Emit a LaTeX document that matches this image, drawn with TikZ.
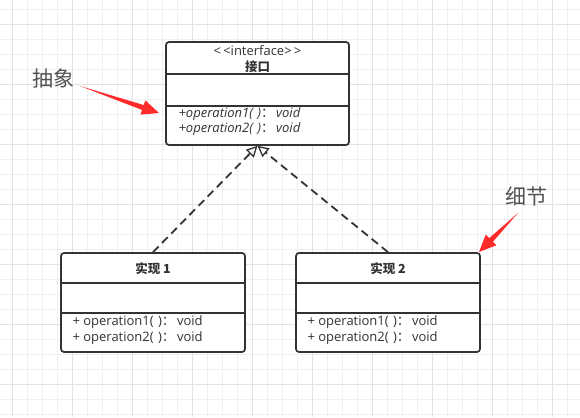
\documentclass[tikz,border=0pt]{standalone}
\usepackage{fontspec}
\setmainfont{Open Sans}
\newfontfamily\cjk{Noto Sans CJK SC}
\usetikzlibrary{arrows.meta,calc}
\definecolor{ink}{HTML}{333333}
\definecolor{gridminor}{HTML}{EFEFEF}
\definecolor{gridmajor}{HTML}{E2E2E2}
\definecolor{note}{HTML}{FF2B2B}
\newcommand{\boxfont}{\fontsize{13}{15}\selectfont}
\newcommand{\fwcolon}{{\cjk ：}}

\tikzset{
  umlbox/.style={draw=ink, line width=1.7pt, rounded corners=3pt, fill=white,
    inner sep=0pt},
  divider/.style={draw=ink, line width=1.7pt},
  realize/.style={draw=ink, line width=1.8pt, dash pattern=on 8pt off 5pt,
    -{Triangle[open, length=11pt, width=11pt, line width=1.3pt]}},
  classname/.style={text=ink, font=\fontsize{12.5}{14}\selectfont\cjk\bfseries},
  member/.style={text=ink, font=\boxfont, anchor=west},
  notetext/.style={text=ink!85, font=\fontsize{21}{23}\selectfont\cjk}
}

\begin{document}
\begin{tikzpicture}[x=1pt,y=-1pt]
   \useasboundingbox (0,0) rectangle (580,417);
   \fill[white] (0,0) rectangle (580,417);

   % background grid
   \foreach \i in {0,...,38}
   \draw[gridminor, line width=.8pt] (12+15*\i,0) -- (12+15*\i,417);
   \foreach \i in {0,...,27}
   \draw[gridminor, line width=.8pt] (0,9+15*\i) -- (580,9+15*\i);
   \foreach \i in {0,...,9}
   \draw[gridmajor, line width=.8pt] (12+60*\i,0) -- (12+60*\i,417);
   \foreach \i in {0,...,6}
   \draw[gridmajor, line width=.8pt] (0,24+60*\i) -- (580,24+60*\i);

   % classes
   \node[umlbox, minimum width=183pt, minimum height=103pt] (iface) at (257.5,93.5) {};
   \node[umlbox, minimum width=184pt, minimum height=99pt] (impl1) at (153,302.5) {};
   \node[umlbox, minimum width=184pt, minimum height=99pt] (impl2) at (388,302.5) {};

   \draw[divider] (166,74) -- (349,74);
   \draw[divider] (166,106) -- (349,106);
   \draw[divider] (61,283) -- (245,283);
   \draw[divider] (61,313) -- (245,313);
   \draw[divider] (296,283) -- (480,283);
   \draw[divider] (296,313) -- (480,313);

   \node[text=ink, font=\boxfont] (stereo) at (257.5,50.5) {{<}\,{<}interface{>}\,{>}};
   \node[classname] (ifname) at (257.5,67) {接口};
   \node[member, font=\boxfont\itshape] (if1) at (175,114.5) {+operation1(\,\,)\fwcolon\,void};
   \node[member, font=\boxfont\itshape] (if2) at (175,129.5) {+operation2(\,\,)\fwcolon\,void};

   \node[classname] (name1) at (153,269) {实现 1};
   \node[member] (op11) at (69,322) {+ operation1(\,\,)\fwcolon\,void};
   \node[member] (op12) at (69,338) {+ operation2(\,\,)\fwcolon\,void};

   \node[classname] (name2) at (388,269) {实现 2};
   \node[member] (op21) at (304,322) {+ operation1(\,\,)\fwcolon\,void};
   \node[member] (op22) at (304,338) {+ operation2(\,\,)\fwcolon\,void};

   % realization
   \draw[realize] (impl1.north) -- (iface.south);
   \draw[realize] (impl2.north) -- (iface.south);

   % notes
   \node[notetext] (abstract) at (53,78) {抽象};
   \node[notetext] (detail) at (526,196) {细节};
   \coordinate (absT) at (80,86);
   \coordinate (absH) at (159,113);
   \coordinate (detT) at (518,213);
   \coordinate (detH) at (479,252);

   \foreach \t/\h in {absT/absH, detT/detH} {
     \coordinate (base) at ($(\h)!17pt!(\t)$);
     \fill[note] (\t) -- ($(base)!2.6pt!90:(\h)$) -- ($(base)!7.5pt!90:(\h)$)
       -- (\h) -- ($(base)!7.5pt!-90:(\h)$) -- ($(base)!2.6pt!-90:(\h)$) -- cycle;
   }

\end{tikzpicture}
\end{document}
